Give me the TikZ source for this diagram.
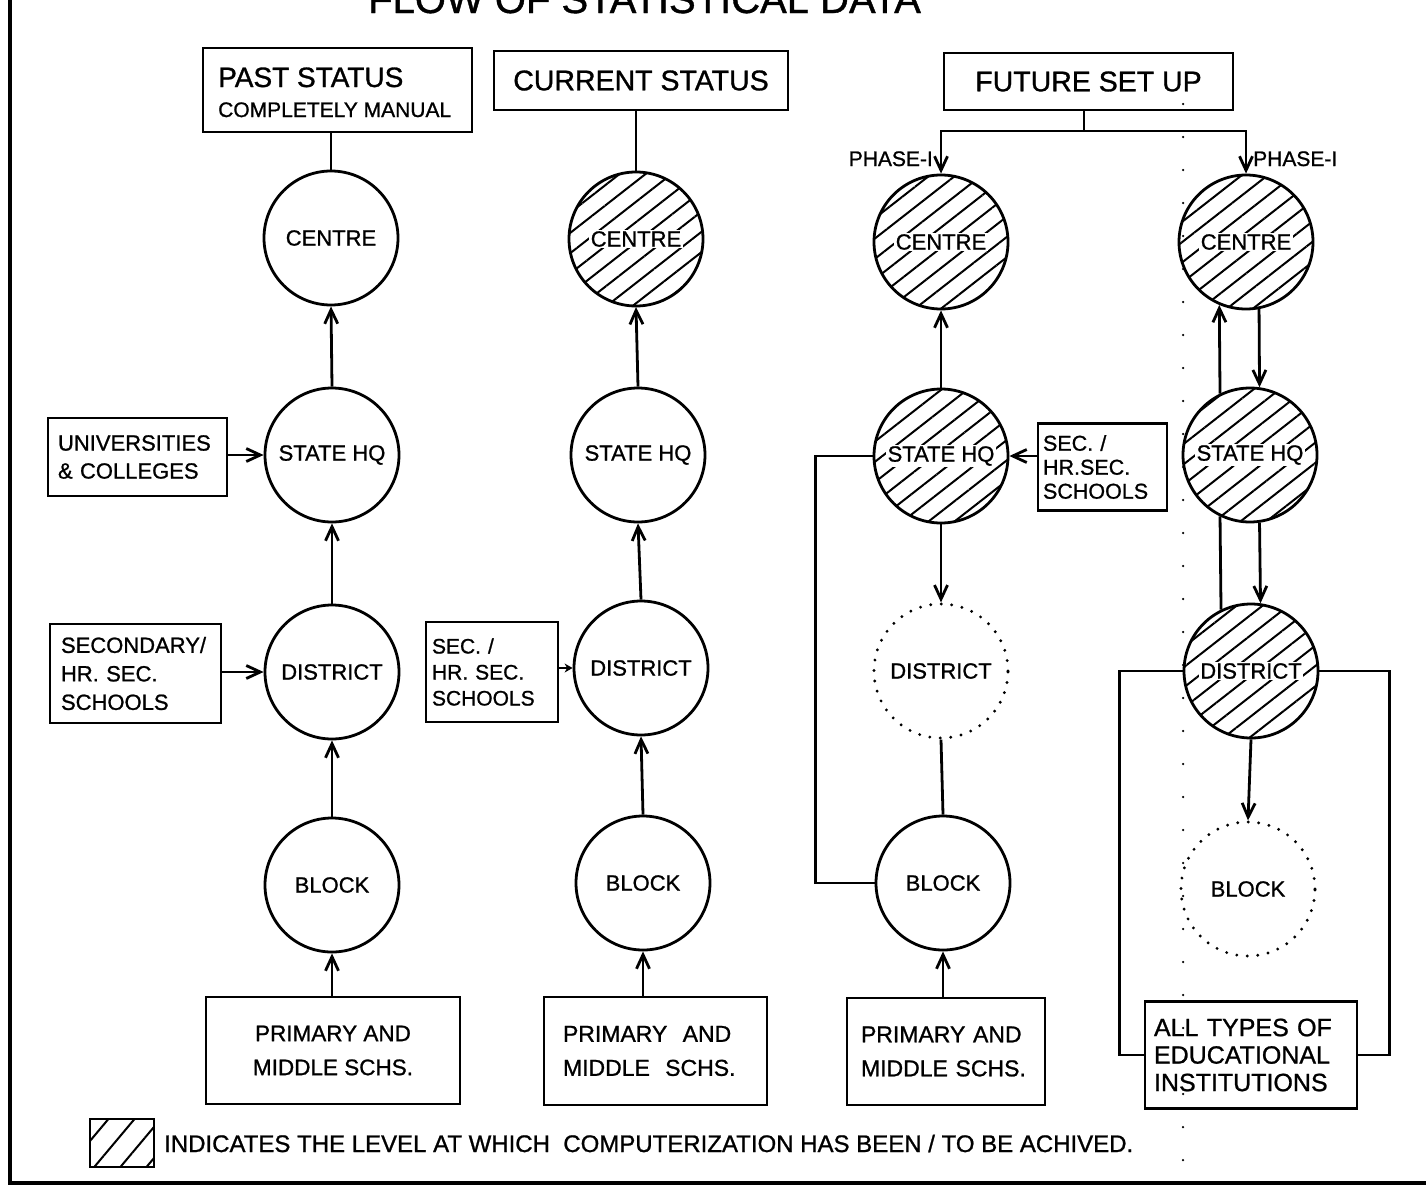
\documentclass[tikz,border=0pt]{standalone}
\usepackage{fontspec}
\setmainfont{Liberation Sans}[FakeBold=1]
\usetikzlibrary{arrows.meta,patterns.meta}
\newcommand\fsz[2]{\fontsize{#1pt}{#2pt}\selectfont}
\begin{document}
\begin{tikzpicture}[x=1pt,y=-1pt,
  ln/.style={line width=2.8pt},
  arr/.style={line width=2.8pt,-{Straight Barb[length=14pt,width=13pt]}},
  sarr/.style={line width=2.8pt,-{Stealth[length=8pt,width=9pt]}},
  circ/.style={circle,draw,line width=2.8pt,minimum size=134pt,inner sep=0pt,font=\fsz{22}{26}},
  hat/.style={circ,pattern={Lines[angle=38,distance=16pt,line width=2pt]}},
  dotc/.style={circle,draw,line width=3.2pt,line cap=round,dash pattern=on 0pt off 10.5pt,minimum size=134pt,inner sep=0pt,font=\fsz{22}{26}},
  box/.style={draw,rectangle,line width=2.8pt,inner sep=0pt},
  hl/.style={fill=white,inner sep=1.5pt,font=\fsz{22}{26}},
  txt/.style={inner sep=0pt},
]
\useasboundingbox (0,0) rectangle (1426,1186);
% frame
\draw[line width=4.5pt] (10,0) -- (10,1183);
\draw[line width=3.5pt] (8,1183) -- (1426,1183);
% faint dotted vertical
\draw[line width=2.5pt,line cap=round,dash pattern=on 0pt off 33pt] (1183,104) -- (1183,1170);
% title
\node[txt,anchor=base,font=\fsz{40}{44}] (title) at (644.5,13) {FLOW OF STATISTICAL DATA};

% ---------- column 1 ----------
\node[box,minimum width=269pt,minimum height=84pt] (past) at (337.5,90) {};
\node[txt,anchor=base west,font=\fsz{28}{30}] (pastT) at (218,87) {PAST STATUS};
\node[txt,anchor=base west,font=\fsz{21}{24}] (pastS) at (218,117) {COMPLETELY MANUAL};
\node[circ] (C1) at (331,238) {CENTRE};
\node[circ] (S1) at (332,455) {STATE HQ};
\node[circ] (D1) at (332,672) {DISTRICT};
\node[circ] (B1) at (332,885) {BLOCK};
\node[box,minimum width=179pt,minimum height=78pt,text width=159pt,align=left,font=\fsz{22}{28}] (univ) at (137.5,457) {UNIVERSITIES\\\& COLLEGES};
\node[box,minimum width=171pt,minimum height=99pt,text width=149pt,align=left,font=\fsz{22}{28.5}] (sec1) at (135.5,673.5) {SECONDARY/\\HR. SEC.\\SCHOOLS};
\node[box,minimum width=254pt,minimum height=107pt,align=center,font=\fsz{22.5}{34}] (prim1) at (333,1050.5) {PRIMARY AND\\MIDDLE SCHS.};
\draw[ln] (C1.north |- past.south) -- (C1.north);
\draw[arr] (S1.north) -- (C1.south);
\draw[arr] (D1.north) -- (S1.south);
\draw[arr] (B1.north) -- (D1.south);
\draw[arr] (B1.south |- prim1.north) -- (B1.south);
\draw[arr] (univ.east |- S1.west) -- (S1.west);
\draw[arr] (sec1.east |- D1.west) -- (D1.west);

% ---------- column 2 ----------
\node[box,minimum width=294pt,minimum height=59pt,font=\fsz{28.5}{30}] (cur) at (641,80.5) {CURRENT STATUS};
\node[hat,label={[hl]center:CENTRE}] (C2) at (636,239) {};
\node[circ] (S2) at (638,455) {STATE HQ};
\node[circ] (D2) at (641,668) {DISTRICT};
\node[circ] (B2) at (643,883) {BLOCK};
\node[box,minimum width=132pt,minimum height=100pt,text width=120pt,align=left,font=\fsz{21}{26}] (sec2) at (492,672) {SEC. /\\HR. SEC.\\SCHOOLS};
\node[box,minimum width=223pt,minimum height=108pt,text width=185pt,align=left,font=\fsz{23}{34}] (prim2) at (655.5,1051) {PRIMARY\ \ AND\\MIDDLE\ \ SCHS.};
\draw[ln] (C2.north |- cur.south) -- (C2.north);
\draw[arr] (S2.north) -- (C2.south);
\draw[arr] (D2.north) -- (S2.south);
\draw[arr] (B2.north) -- (D2.south);
\draw[arr] (B2.south |- prim2.north) -- (B2.south);
\draw[sarr] (sec2.east |- D2.west) -- (D2.west);

% ---------- column 3 ----------
\node[box,minimum width=289pt,minimum height=57pt,font=\fsz{28.5}{30}] (fut) at (1088.5,81.5) {FUTURE SET UP};
\coordinate (j) at (1084,131);
\node[hat,label={[hl]center:CENTRE}] (C3) at (941,242) {};
\node[hat,label={[hl]center:STATE HQ}] (S3) at (941,456) {};
\node[dotc] (D3) at (941,671) {DISTRICT};
\node[circ] (B3) at (943,883) {BLOCK};
\node[box,minimum width=129pt,minimum height=87pt,text width=119pt,align=left,font=\fsz{21.5}{24}] (sec3) at (1102.5,467) {SEC. /\\HR.SEC.\\SCHOOLS};
\node[box,minimum width=198pt,minimum height=107pt,text width=170pt,align=left,font=\fsz{23}{34}] (prim3) at (946,1051.5) {PRIMARY AND\\MIDDLE SCHS.};
\node[txt,anchor=base east,font=\fsz{21}{24}] (ph1) at (933,166) {PHASE-I};
\node[txt,anchor=base west,font=\fsz{21}{24}] (ph2) at (1253,166) {PHASE-I};
\draw[ln] (j |- fut.south) -- (j);
\draw[arr] (j) -| (C3.north);
\draw[arr] (S3.north) -- (C3.south);
\draw[arr] (S3.south) -- (D3.north);
\draw[ln] (D3.south) -- (B3.north);
\draw[arr] (B3.south |- prim3.north) -- (B3.south);
\draw[arr] (sec3.west |- S3.east) -- (S3.east);
\draw[ln] (S3.west) -- ++(-57,0) |- (B3.west);

% ---------- column 4 ----------
\node[hat,label={[hl]center:CENTRE}] (C4) at (1246,242) {};
\node[hat,label={[hl]center:STATE HQ}] (S4) at (1250,455) {};
\node[hat,label={[hl]center:DISTRICT}] (D4) at (1251,671) {};
\node[dotc] (B4) at (1248,889) {BLOCK};
\node[box,minimum width=212pt,minimum height=107pt,text width=194pt,align=left,font=\fsz{25}{27.5}] (all) at (1251,1055) {ALL TYPES OF\\EDUCATIONAL\\INSTITUTIONS};
\draw[arr] (j) -| (C4.north);
\draw[arr] (S4.116.6) -- (C4.247.2);
\draw[arr] (C4.281.2) -- (S4.82.3);
\draw[ln] (D4.116.6) -- (S4.244.4);
\draw[arr] (S4.278.6) -- (D4.82.3);
\draw[arr] (D4.south) -- (B4.north);
\draw[ln] (D4.west) -- ++(-63,0) |- (all.west);
\draw[ln] (D4.east) -- ++(70,0) |- (all.east);

% ---------- legend ----------
\node[box,minimum width=64pt,minimum height=48pt,pattern={Lines[angle=50,distance=20pt,line width=2pt]}] (leg) at (122,1143) {};
\node[txt,anchor=base west,font=\fsz{24}{26}] (legT) at (164,1152) {INDICATES THE LEVEL AT WHICH\ \ COMPUTERIZATION HAS BEEN / TO BE ACHIVED.};
\end{tikzpicture}
\end{document}
